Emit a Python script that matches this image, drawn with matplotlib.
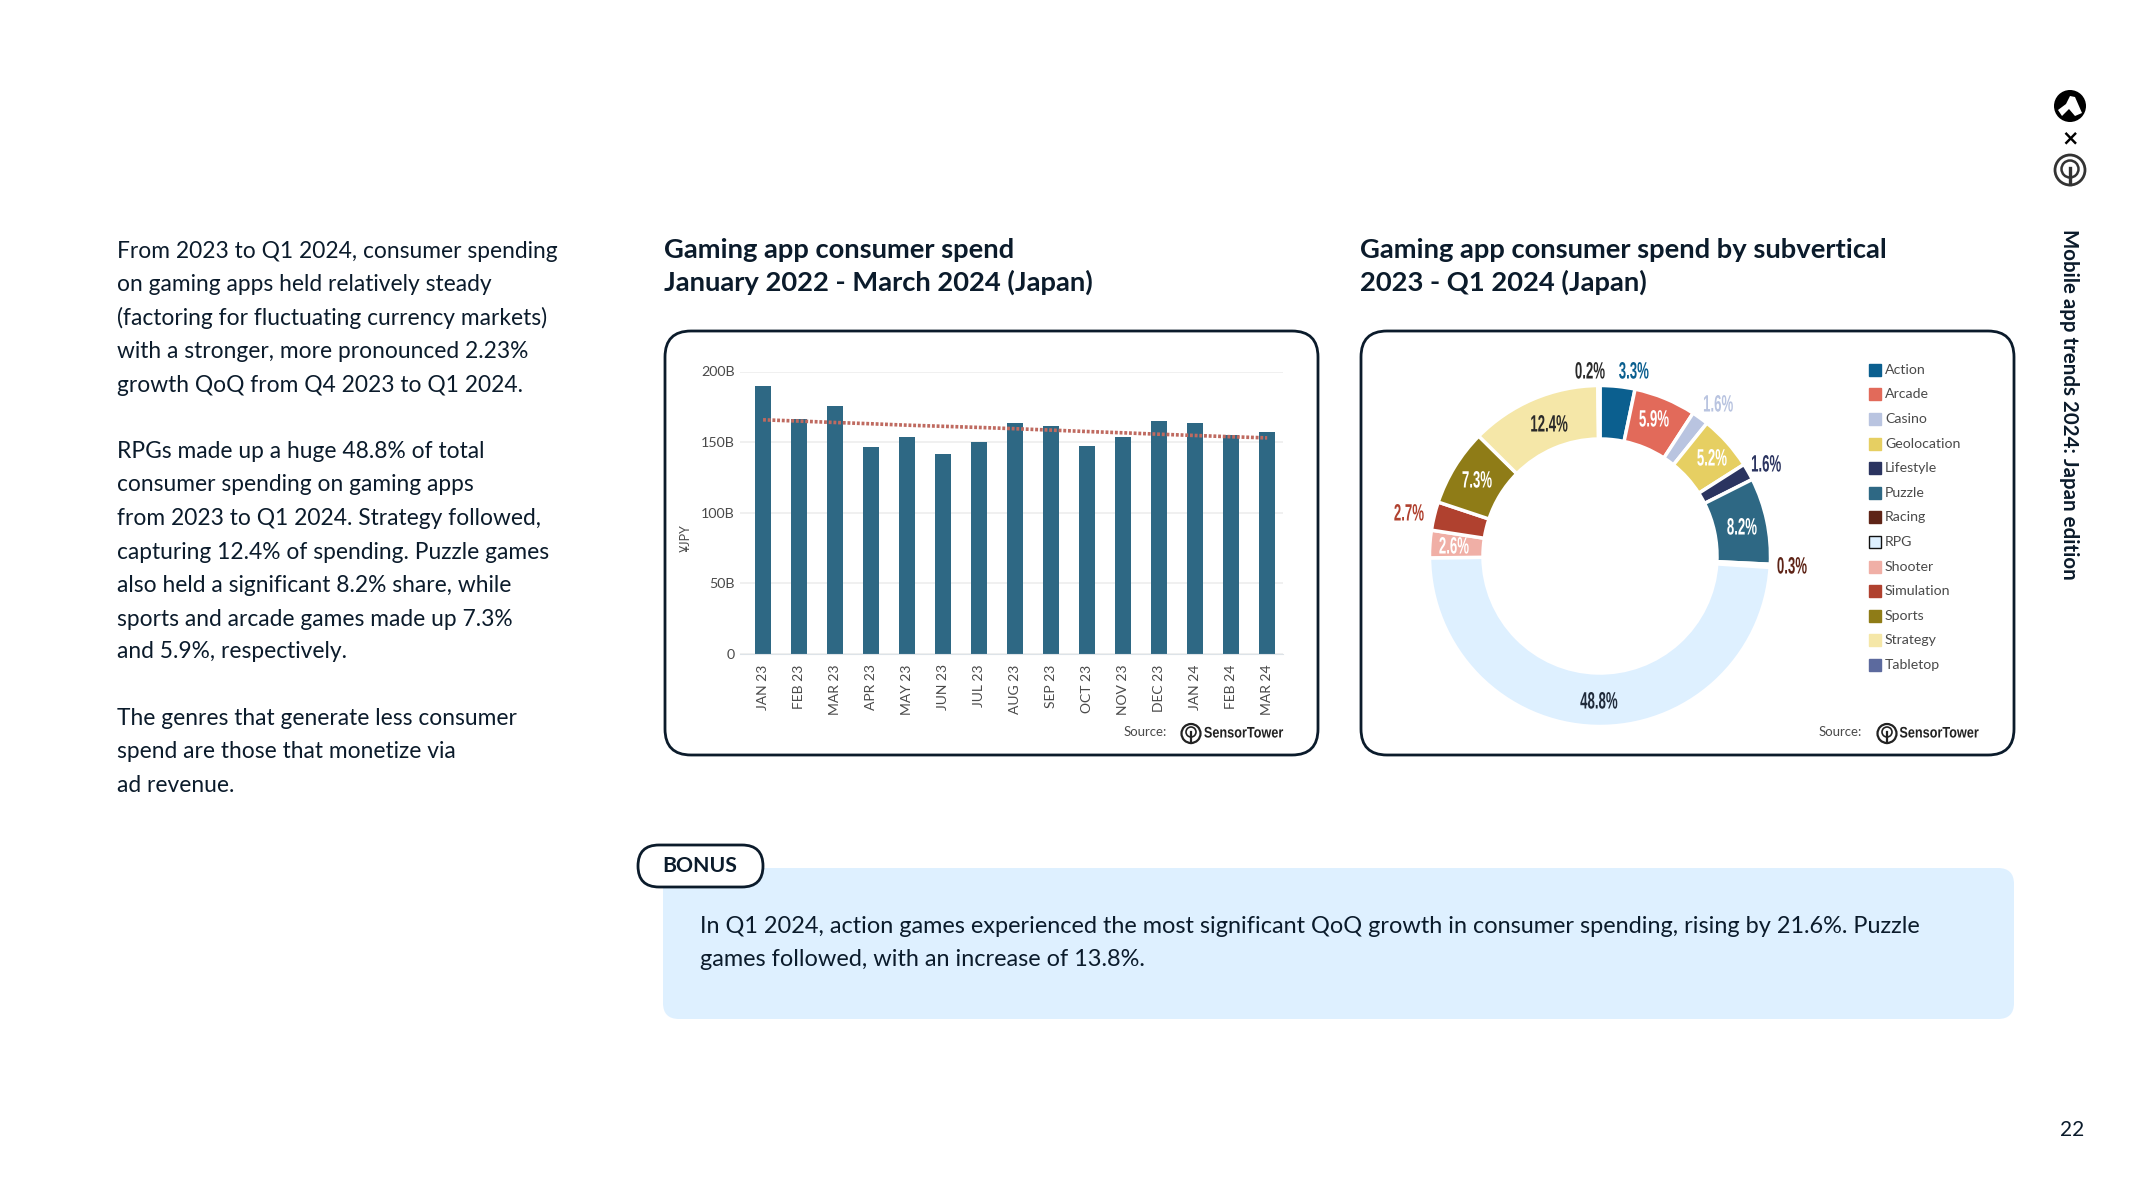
import matplotlib
matplotlib.use("Agg")
import matplotlib.pyplot as plt
import matplotlib.patheffects as pe
from matplotlib.patches import FancyBboxPatch, Circle, Rectangle, Polygon
from matplotlib.transforms import Affine2D

months = ["JAN 23","FEB 23","MAR 23","APR 23","MAY 23","JUN 23","JUL 23","AUG 23","SEP 23","OCT 23","NOV 23","DEC 23","JAN 24","FEB 24","MAR 24"]
spend = [189.8,166.5,175.7,146.6,153.7,141.7,150.2,163.6,161.5,147.3,153.7,165.0,163.6,155.0,157.3]
trend = [165.8,164.9,163.9,163.0,162.0,161.2,160.4,159.5,158.5,157.5,156.6,155.6,154.7,153.8,153.0]
y_ticks = [0,50,100,150,200]
y_labels = ["0","50B","100B","150B","200B"]

genres = ["Action","Arcade","Casino","Geolocation","Lifestyle","Puzzle","Racing","RPG","Shooter","Simulation","Sports","Strategy","Tabletop"]
shares = [3.3,5.9,1.6,5.2,1.6,8.2,0.3,48.8,2.6,2.7,7.3,12.4,0.2]
colors = ["#0B5F8F","#E26A5A","#B9C4E0","#E6CF62","#2B3460","#2E6884","#5E2417","#DEF0FF","#F0AFA6","#B0412F","#8F7C17","#F5E7A8","#5C6A9E"]
label_colors = ["#0B5F8F","#FFFFFF","#B9C4E0","#FFFFFF","#2B3460","#FFFFFF","#5E2417","#1F2A3A","#FFFFFF","#B0412F","#FFFFFF","#2A2A2A","#2A2A2A"]
label_px = [(1634,372),(1654,420),(1718,405),(1712,459),(1766,465),(1742,528),(1792,567),(1599,702),(1454,547),(1409,514),(1477,481),(1549,425),(1590,372)]
label_nudge = [-10,0,0,0,0,0,0,0,0,0,0,0,10]

left_text = [
 (184,"From 2023 to Q1 2024, consumer spending"),(208,"on gaming apps held relatively steady"),
 (233,"(factoring for fluctuating currency markets)"),(257,"with a stronger, more pronounced 2.23%"),
 (282,"growth QoQ from Q4 2023 to Q1 2024."),
 (331,"RPGs made up a huge 48.8% of total"),(355,"consumer spending on gaming apps"),
 (380,"from 2023 to Q1 2024. Strategy followed,"),(405,"capturing 12.4% of spending. Puzzle games"),
 (429,"also held a significant 8.2% share, while"),(454,"sports and arcade games made up 7.3%"),
 (478,"and 5.9%, respectively."),
 (527,"The genres that generate less consumer"),(551,"spend are those that monetize via"),(576,"ad revenue."),
]
NAVY = "#0B1B2B"
FONT = "Lato"
BOLDF = "Liberation Sans"
W, H = 2133, 1200
S = 1.3603


class Squeeze(pe.AbstractPathEffect):
    """Narrow a text's glyphs around their centre (the installed fonts have no condensed cut)."""
    def __init__(self, k, dx=0):
        super().__init__()
        self.k = k
        self.dx = dx

    def draw_path(self, renderer, gc, tpath, affine, rgbFace=None):
        ext = tpath.get_extents(affine)
        cx = (ext.x0 + ext.x1) / 2
        t = affine + Affine2D().translate(-cx, 0).scale(self.k, 1).translate(cx + self.dx, 0)
        renderer.draw_path(gc, tpath, t, rgbFace)


fig = plt.figure(figsize=(W/100, H/100), dpi=100, facecolor="white")
bg = fig.add_axes([0,0,1,1], zorder=0)
bg.set_xlim(0,W); bg.set_ylim(H,0); bg.axis("off")
fg = fig.add_axes([0,0,1,1], zorder=5)
fg.set_xlim(0,W); fg.set_ylim(H,0); fg.axis("off"); fg.patch.set_alpha(0)

def card(x0,y0,x1,y1,r,fc,ec,lw):
    bg.add_patch(FancyBboxPatch((x0+r,y0+r),x1-x0-2*r,y1-y0-2*r,boxstyle=f"round,pad={r},rounding_size={r}",fc=fc,ec=ec,lw=lw))

for y,s in left_text:
    bg.text(117,y*S+1.5,s,fontsize=16.4,family=FONT,color=NAVY,va="center",ha="left")

for x,l1,l2 in [(664,"Gaming app consumer spend","January 2022 - March 2024 (Japan)"),(1360,"Gaming app consumer spend by subvertical","2023 - Q1 2024 (Japan)")]:
    bg.text(x,250,l1,fontsize=19.7,family=FONT,weight="bold",color=NAVY,va="center")
    bg.text(x,282.5,l2,fontsize=19.7,family=FONT,weight="bold",color=NAVY,va="center")

card(665,331,1318,755,26,"white",NAVY,2.0)
card(1361,331,2014,755,26,"white",NAVY,2.0)
card(663,868,2014,1019,16,"#DEF0FF","none",0)
card(638,845,763,887,21,"white",NAVY,2.0)
bg.text(700,866,"BONUS",fontsize=15.3,family=FONT,weight="bold",color=NAVY,ha="center",va="center")
bg.text(700,926.5,"In Q1 2024, action games experienced the most significant QoQ growth in consumer spending, rising by 21.6%. Puzzle",fontsize=16.9,family=FONT,color=NAVY,va="center")
bg.text(700,959.5,"games followed, with an increase of 13.8%.",fontsize=16.9,family=FONT,color=NAVY,va="center")

# Bar chart
ax = fig.add_axes([740/W, 1-654/H, (1283-740)/W, (654-371.5)/H], zorder=2)
ax.patch.set_alpha(0)
xpos = list(range(len(months)))
ax.bar(xpos, spend, width=0.45, color="#2E6884", zorder=2)
ax.plot(xpos, trend, color="#BF6A60", lw=2.6, ls=(0,(0.8,0.5)), zorder=3)
ax.set_xlim(-0.64,14.44); ax.set_ylim(0,200)
ax.set_yticks(y_ticks); ax.set_yticklabels(y_labels, fontsize=10.3, family=FONT, color="#4A4A4A")
ax.set_xticks(xpos)
ax.set_xticklabels(months, rotation=90, rotation_mode="anchor", ha="right", va="center",
                   fontsize=10, family=FONT, color="#4A4A4A")
ax.tick_params(length=0, axis="both"); ax.tick_params(axis="x", pad=7.5); ax.tick_params(axis="y", pad=4)
ax.grid(axis="y", color="#EDEDED", lw=1.2, zorder=1); ax.set_axisbelow(True)
for k,sp in ax.spines.items():
    sp.set_visible(k=="bottom")
ax.spines["bottom"].set_color("#DDE3E8"); ax.spines["bottom"].set_zorder(4)
fg.text(686,538,"¥JPY",rotation=90,fontsize=9,family=FONT,color="#4A4A4A",ha="center",va="center")

# Donut
cx, cy, R = 1600, 556, 170.5
pad = 1.0
dax = fig.add_axes([(cx-R)/W, 1-(cy+R)/H, 2*R/W, 2*R/H], zorder=2)
dax.pie(shares, colors=colors, startangle=90, counterclock=False, radius=1,
        wedgeprops=dict(width=1-117/170.5, edgecolor="white", linewidth=2.5))
dax.set_xlim(-pad,pad); dax.set_ylim(-pad,pad); dax.set_aspect("equal")
for v,c,(x,y),n in zip(shares,label_colors,label_px,label_nudge):
    # the nudge moves the anchor, and the squeeze puts the narrowed glyphs back in place
    fg.text(x-n,y,f"{v}%",fontsize=17,family=BOLDF,weight="bold",color=c,ha="center",va="center",
            path_effects=[Squeeze(0.56,dx=n)])

# Legend
leg_y = [370,394,419,444,468,493,517,542,567,591,616,640,665]
for g,c,y in zip(genres,colors,leg_y):
    ec = "#111111" if g=="RPG" else c
    fg.add_patch(Rectangle((1869,y-6),11.5,12,fc=c,ec=ec,lw=1.0))
    fg.text(1885,y,g,fontsize=10.2,family=FONT,color="#4A4A4A",va="center")

# Source marks
def source(xs, xc, xt):
    fg.text(xs,732,"Source:",fontsize=9.5,family=FONT,color="#4A4A4A",ha="center",va="center")
    fg.add_patch(Circle((xc,733.5),9.5,fc="white",ec="#222222",lw=1.6))
    fg.add_patch(Circle((xc,732),5,fc="white",ec="#222222",lw=1.2))
    fg.plot([xc,xc],[732,743],color="#222222",lw=1.6)
    fg.text(xt,733.5,"SensorTower",fontsize=11,family=BOLDF,weight="bold",color="#222222",ha="center",va="center",
            path_effects=[Squeeze(0.83)])
source(1145,1191,1243.5)
source(1840,1887,1939)

# Top right marks and side title
fg.add_patch(Circle((2070,106),16,fc="black",ec="none"))
fg.add_patch(Polygon([(2058,110),(2066,104),(2070,96),(2075,97),(2082,113),(2075,116),(2069,109),(2062,116)],fc="white",ec="none"))
fg.text(2070,138.5,"×",fontsize=15,family="DejaVu Sans",weight="bold",color="black",ha="center",va="center")
fg.add_patch(Circle((2070,170),15,fc="white",ec="#333333",lw=2))
fg.add_patch(Circle((2070,169),8.5,fc="white",ec="#333333",lw=1.8))
fg.plot([2070,2070],[168,184],color="#333333",lw=2.4)
fg.text(2069,404,"Mobile app trends 2024: Japan edition",rotation=270,fontsize=14.75,family=FONT,weight="bold",color=NAVY,ha="center",va="center")
fg.text(2072,1130,"22",fontsize=15,family=FONT,color=NAVY,ha="center",va="center")

fig.savefig("out.png", dpi=100)
